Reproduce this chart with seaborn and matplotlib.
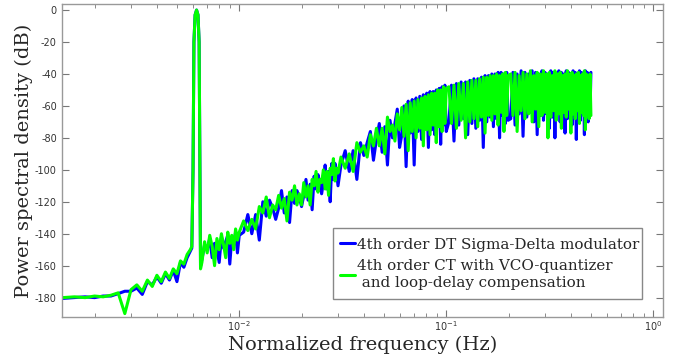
import matplotlib
matplotlib.use("Agg")
import matplotlib.pyplot as plt
from matplotlib.patches import Rectangle
import pandas as pd
import seaborn as sns

# normalized frequency bins (Hz)
freq = [
    # low band
    0.0014, 0.0016, 0.0018, 0.0020, 0.0022, 0.0024, 0.0026, 0.0028, 0.0030, 0.0032,
    0.0034, 0.0036, 0.0038, 0.0040, 0.0042, 0.0044, 0.0046, 0.0048, 0.0050, 0.0052,
    0.0054, 0.0056, 0.0058,
    # test tone
    0.0059, 0.00598, 0.00604, 0.00612, 0.00622, 0.00632, 0.00640, 0.00646, 0.0065,
    0.0066, 0.0068, 0.0070, 0.0072, 0.0074, 0.0076, 0.0078, 0.0080, 0.0082, 0.0084,
    0.0086, 0.0088, 0.0090, 0.0092, 0.0094, 0.0096, 0.0098, 0.0100,
    0.0105, 0.0110, 0.0115, 0.0120, 0.0125, 0.0130, 0.0135, 0.0140, 0.0145, 0.0150,
    0.0155, 0.0160, 0.0165, 0.0170, 0.0175, 0.0180, 0.0185, 0.0190, 0.0195, 0.0200,
    0.0205, 0.0210, 0.0215, 0.0220, 0.0225, 0.0230, 0.0235, 0.0240, 0.0245, 0.0250,
    0.0255, 0.0260, 0.0265, 0.0270, 0.0275, 0.0280, 0.0285, 0.0290, 0.0295, 0.0300,
    0.0310, 0.0325, 0.0340, 0.0355, 0.0370, 0.0385, 0.0400, 0.0415, 0.0430, 0.0445,
    0.0460, 0.0475, 0.0490, 0.0505, 0.0520, 0.0535, 0.0550, 0.0565, 0.0580, 0.0595,
    0.0610, 0.0625, 0.0640, 0.0655, 0.0670, 0.0685, 0.0700, 0.0715, 0.0730, 0.0745,
    0.0760, 0.0775, 0.0790, 0.0805, 0.0820, 0.0835, 0.0850, 0.0865, 0.0880, 0.0895,
    0.0910, 0.0925, 0.0940, 0.0955, 0.0970, 0.0985, 0.1000,
    0.103, 0.106, 0.109, 0.112, 0.115, 0.118, 0.121, 0.124, 0.127, 0.130,
    0.133, 0.136, 0.139, 0.142, 0.145, 0.148, 0.151, 0.154, 0.157, 0.160,
    0.163, 0.166, 0.169, 0.172, 0.175, 0.178, 0.181, 0.184, 0.187, 0.190,
    0.193, 0.196, 0.199,
    0.205, 0.210, 0.215, 0.220, 0.225, 0.230, 0.235, 0.240, 0.245, 0.250,
    0.255, 0.260, 0.265, 0.270, 0.275, 0.280, 0.285, 0.290, 0.295, 0.300,
    0.305, 0.310, 0.315, 0.320, 0.325, 0.330, 0.335, 0.340, 0.345, 0.350,
    0.355, 0.360, 0.365, 0.370, 0.375, 0.380, 0.385, 0.390, 0.395, 0.400,
    0.405, 0.410, 0.415, 0.420, 0.425, 0.430, 0.435, 0.440, 0.445, 0.450,
    0.455, 0.460, 0.465, 0.470, 0.475, 0.480, 0.485, 0.490, 0.495, 0.500,
]

# PSD of the DT sigma-delta modulator (dB)
psd_dt = [
    -180.5, -180, -179.5, -180, -179, -179, -177.5, -176, -176, -174,
    -178, -170, -172, -167, -171, -165, -169, -163, -170, -158,
    -161, -155, -151,
    -149, -100, -20, -3, 0, -3, -20, -100, -160,
    -156, -147, -150, -143, -155, -146, -150, -158, -142, -149,
    -145, -141, -159, -143, -147, -139, -152, -141,
    -139, -128, -140, -128, -144, -120, -129, -119, -124, -131,
    -124, -113, -127, -117, -133, -113, -121, -113, -117, -123,
    -116, -106, -119, -109, -125, -104, -112, -103, -108, -115,
    -108, -97, -112, -101, -120, -96, -106, -96, -101, -110,
    -97, -88, -101, -88, -106, -83, -91, -83, -76, -94,
    -81, -71, -89, -73, -97, -69, -80, -71, -62, -86,
    -78, -60, -98, -57, -77, -56, -97, -55, -76, -54,
    -81, -53, -74, -52, -86, -51, -75, -51, -78, -50,
    -73, -49, -84, -48, -72, -47, -76,
    -70, -47, -82, -46, -72, -45, -68, -45, -78, -44,
    -71, -43, -74, -43, -69, -42, -86, -41, -70, -41,
    -67, -40, -73, -40, -68, -39, -80, -39, -66, -40,
    -71, -39, -69,
    -68, -39, -72, -40, -65, -38, -79, -39, -67, -40,
    -64, -38, -70, -39, -78, -40, -66, -38, -69, -39,
    -65, -40, -74, -38, -67, -39, -80, -40, -64, -38,
    -70, -39, -66, -40, -77, -38, -68, -39, -65, -40,
    -72, -38, -66, -39, -81, -40, -67, -38, -69, -39,
    -64, -40, -78, -38, -66, -39, -70, -40, -65, -39,
]

# PSD of the CT modulator with VCO quantizer (dB)
psd_ct = [
    -180, -179.5, -180, -179, -179.5, -178.5, -177, -190, -175, -172,
    -176, -169, -173, -166, -170, -164, -168, -162, -165, -157,
    -159, -153, -150,
    -148, -100, -20, -3, 0, -3, -20, -100, -162,
    -158, -145, -152, -141, -148, -160, -143, -150, -140, -147,
    -155, -139, -146, -141, -150, -137, -144, -139,
    -132, -138, -131, -137, -123, -127, -117, -130, -122, -125,
    -116, -124, -118, -132, -114, -119, -110, -122, -115, -122,
    -108, -117, -110, -122, -106, -110, -101, -114, -106, -108,
    -100, -112, -101, -116, -99, -103, -93, -107, -99, -102,
    -92, -99, -90, -101, -83, -89, -85, -92, -78, -85,
    -74, -85, -74, -90, -67, -76, -72, -82, -65, -75,
    -61, -79, -59, -88, -58, -76, -57, -80, -56, -74,
    -55, -85, -54, -75, -53, -78, -52, -72, -52, -83,
    -50, -73, -50, -76, -48, -71, -49,
    -48, -71, -47, -74, -46, -69, -46, -80, -45, -70,
    -44, -68, -44, -73, -43, -67, -42, -77, -42, -66,
    -41, -69, -41, -65, -40, -72, -41, -64, -40, -76,
    -39, -66, -41,
    -40, -66, -39, -76, -41, -63, -39, -68, -40, -65,
    -38, -70, -41, -62, -39, -73, -40, -66, -38, -64,
    -40, -80, -39, -67, -41, -63, -38, -69, -40, -65,
    -39, -74, -41, -64, -40, -67, -38, -62, -40, -77,
    -39, -65, -41, -68, -40, -63, -39, -71, -41, -64,
    -40, -66, -38, -75, -40, -63, -41, -68, -40, -66,
]

labels = ["4th order DT Sigma-Delta modulator",
          "4th order CT with VCO-quantizer\n and loop-delay compensation"]
colors = ["#0000ff", "#00ff00"]
yticks = [0, -20, -40, -60, -80, -100, -120, -140, -160, -180]

df = pd.DataFrame({"freq": freq, "dt": psd_dt, "ct": psd_ct})

sns.set_style("ticks", {"xtick.direction": "in", "ytick.direction": "in"})
plt.rcParams["font.family"] = ["DejaVu Sans"]
plt.rcParams["axes.unicode_minus"] = False

fig = plt.figure(figsize=(6.86, 3.6), dpi=100)
ax = fig.add_axes([0.0899, 0.12, 0.876, 0.868])

sns.lineplot(data=df, x="freq", y="dt", ax=ax, color=colors[0], lw=2.2,
             label=labels[0], estimator=None, sort=False)
sns.lineplot(data=df, x="freq", y="ct", ax=ax, color=colors[1], lw=2.2,
             label=labels[1], estimator=None, sort=False)

ax.set_xscale("log")
ax.set_xlim(1.387e-3, 1.11)
ax.set_ylim(-192, 3.6)
ax.set_yticks(yticks)

for s in ax.spines.values():
    s.set_color("#999999")
    s.set_linewidth(1.0)
ax.tick_params(which="both", direction="in", top=True, right=True,
               color="#777777", labelsize=7, labelcolor="#333333")
ax.tick_params(which="major", length=5)
ax.tick_params(which="minor", length=3)
ax.tick_params(axis="x", pad=2)

ax.set_xlabel("Normalized frequency (Hz)", family="DejaVu Serif", fontsize=14)
ax.set_ylabel("Power spectral density (dB)", family="DejaVu Serif", fontsize=14)
ax.xaxis.set_label_coords(0.5, -0.062)
ax.yaxis.set_label_coords(-0.048, 0.5)

leg = ax.legend(loc="lower right", bbox_to_anchor=(0.965, 0.08), borderaxespad=0,
                prop={"family": "DejaVu Serif", "size": 10.9}, frameon=False,
                handlelength=1.0, handletextpad=0.15, borderpad=0.15,
                labelspacing=0.5)

# legend frame: taller than matplotlib's uniform padding allows
fig.canvas.draw()
bb = leg.get_window_extent()
ax.add_patch(Rectangle((bb.x0 - 4, bb.y0 - 7), bb.width + 4, bb.height + 14,
                       transform=None, facecolor="white", edgecolor="#888888",
                       lw=1.0, zorder=4))
leg.set_zorder(5)

fig.savefig("out.png", dpi=100)
